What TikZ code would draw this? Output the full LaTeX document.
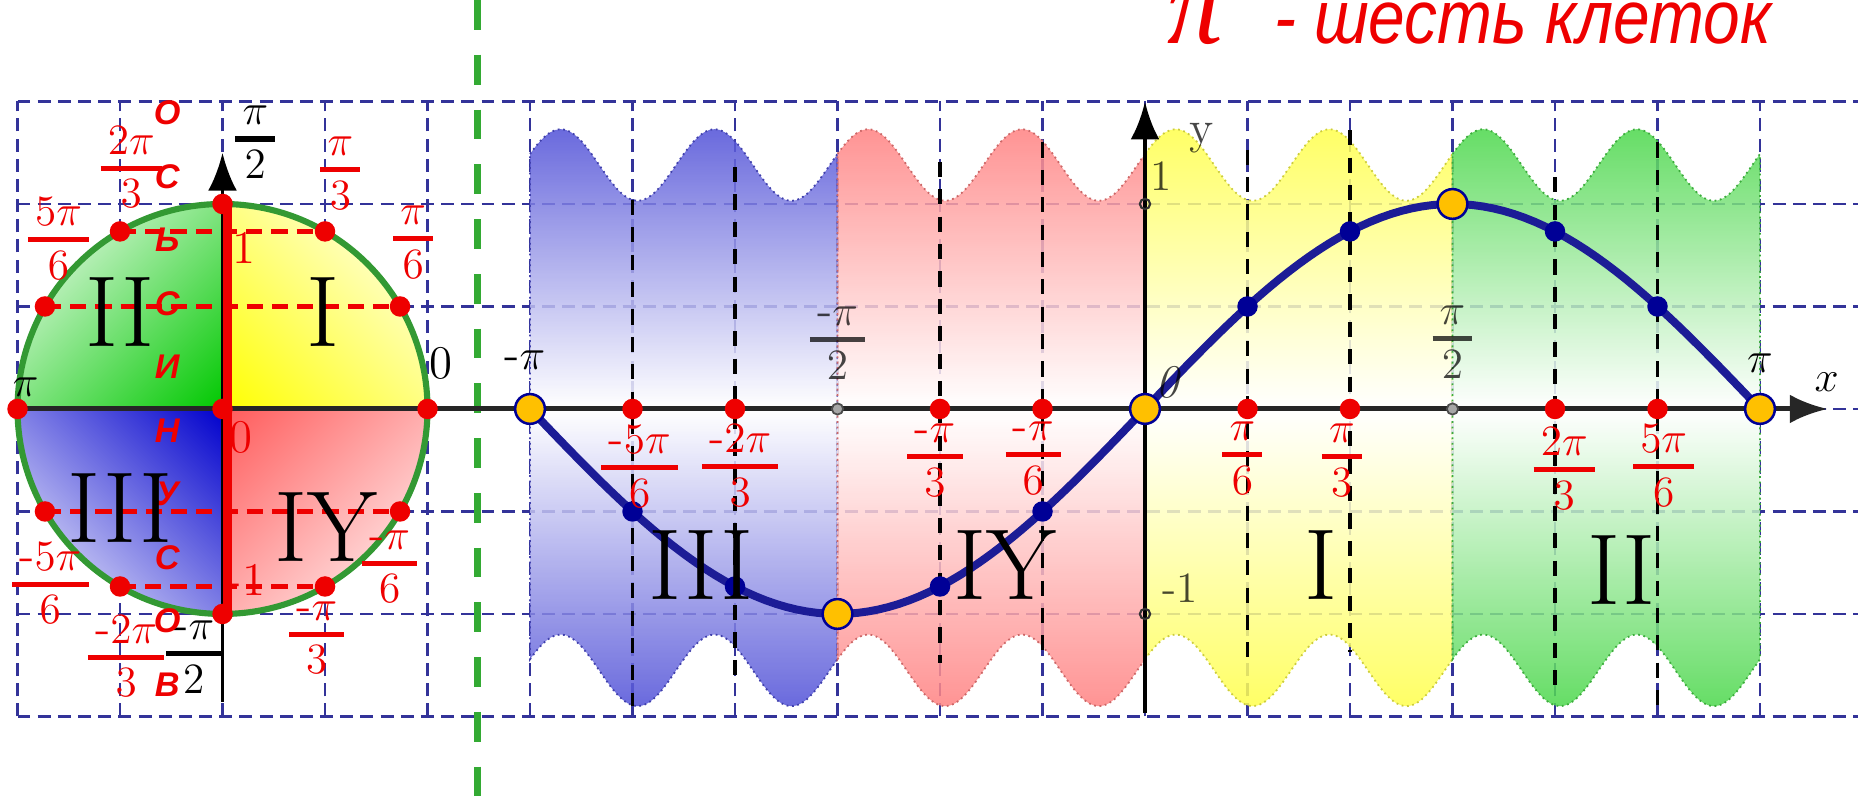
\documentclass[tikz,border=0pt]{standalone}
\usepackage{amsmath}
\usepackage{fontspec}
\newfontfamily\cyrfont{Liberation Sans}
\newfontfamily\titlefont[FakeStretch=0.87]{Liberation Sans}
\newfontfamily\pifont{Liberation Serif}
\usetikzlibrary{arrows.meta,shadings}

\definecolor{gridblue}{RGB}{51,51,153}
\definecolor{labred}{RGB}{238,0,0}
\definecolor{curvenavy}{RGB}{28,28,150}
\definecolor{dotnavy}{RGB}{0,0,150}
\definecolor{dotgold}{RGB}{255,192,0}
\definecolor{rimgreen}{RGB}{51,153,51}
\definecolor{sepgreen}{RGB}{51,170,51}
\definecolor{bandblue}{RGB}{80,80,215}
\definecolor{bandred}{RGB}{255,129,129}
\definecolor{bandyellow}{RGB}{255,255,75}
\definecolor{bandgreen}{RGB}{75,215,75}
\definecolor{qgreen}{RGB}{0,200,0}
\definecolor{qblue}{RGB}{0,0,204}
\definecolor{qred}{RGB}{255,90,90}

\newcommand{\pifr}[2]{$\genfrac{}{}{1.4pt}{1}%
    {\displaystyle\,#1\,\rule[-1.8pt]{0pt}{1.8pt}}{\displaystyle\rule{0pt}{8.9pt}#2}$}

\begin{document}
\begin{tikzpicture}[
    gridline/.style={draw=gridblue, line width=0.7pt, dash pattern=on 3.6pt off 2pt},
    guide/.style={draw=black, line width=1.1pt, dash pattern=on 4.2pt off 3.4pt},
    redguide/.style={draw=labred, line width=1.4pt, dash pattern=on 4.5pt off 2.5pt},
    axisline/.style={draw=black!85, line width=1.4pt},
    arrowtip/.style={-{Latex[length=10.5pt,width=8pt]}},
    golddot/.style={fill=dotgold, draw=dotnavy, line width=0.7pt},
    redlab/.style={text=labred, inner sep=0pt, font=\fontsize{13}{15}\selectfont},
    blklab/.style={text=black, inner sep=0pt, font=\fontsize{13}{15}\selectfont},
    fadelab/.style={blklab, text opacity=0.72},
    roman/.style={inner sep=0pt, font=\fontsize{28}{30}\selectfont},
    cyr/.style={text=labred, inner sep=0pt, font=\cyrfont\bfseries\itshape\fontsize{9.5}{10}\selectfont},
]
\useasboundingbox (-11.171,-3.932) rectangle (6.956,3.990);

% grid
\foreach \gy in {-3,...,3}
    \draw[gridline] (-11,\gy) -- (6.956,\gy);
\foreach \gx in {-11,...,6}
    \draw[gridline] (\gx,-3) -- (\gx,3);

% unit circle
\coordinate (o) at (-9,0);
\foreach \a in {0,30,...,330}
    \coordinate (c\a) at ([shift={(-9,0)}]\a:2);
\shade[lower left=yellow, upper right=white, upper left=yellow!50!white, lower right=yellow!50!white]
    (o) -- (c0) arc[start angle=0, end angle=90, radius=2] -- cycle;
\shade[lower right=qgreen, upper left=white, upper right=qgreen!50!white, lower left=qgreen!50!white]
    (o) -- (c90) arc[start angle=90, end angle=180, radius=2] -- cycle;
\shade[upper right=qblue, lower left=white, upper left=qblue!50!white, lower right=qblue!50!white]
    (o) -- (c180) arc[start angle=180, end angle=270, radius=2] -- cycle;
\shade[upper left=qred, lower right=white, upper right=qred!50!white, lower left=qred!50!white]
    (o) -- (c270) arc[start angle=270, end angle=360, radius=2] -- cycle;
\draw[rimgreen, line width=1.7pt] (o) circle[radius=2];
\draw[redguide] (c120) -- (c60);
\draw[redguide] (c150) -- (c30);
\draw[redguide] (c210) -- (c330);
\draw[redguide] (c240) -- (c300);

% quarter bands
\foreach \xa/\col in {-6/bandblue,-3/bandred,0/bandyellow,3/bandgreen}{
    \pgfmathsetmacro\xb{\xa+3}
    \shade[top color=\col, bottom color=white, fill opacity=0.85]
        (\xa,0) -- plot[domain=\xa:\xb, samples=61] (\x,{2.38+0.35*cos(240*(\x-(\xa)-0.3))}) -- (\xb,0) -- cycle;
    \shade[top color=white, bottom color=\col, fill opacity=0.85]
        (\xa,0) -- plot[domain=\xa:\xb, samples=61] (\x,{-2.55+0.35*cos(240*(\x-(\xa)-0.3))}) -- (\xb,0) -- cycle;
    \draw[\col!80!black, densely dotted, line width=0.5pt]
        plot[domain=\xa:\xb, samples=61] (\x,{2.38+0.35*cos(240*(\x-(\xa)-0.3))})
        -- plot[domain=\xb:\xa, samples=61] (\x,{-2.55+0.35*cos(240*(\x-(\xa)-0.3))}) -- cycle;
}
\foreach \bx/\bt/\bb in {-5/2.04/-2.9, -4/2.36/-2.6, -2/2.41/-2.48, -1/2.6/-2.42,
                          1/2.53/-2.42, 2/2.72/-2.37, 4/2.26/-2.7, 5/2.6/-3.0}
    \draw[guide] (\bx,\bt) -- (\bx,\bb);

\draw[sepgreen, line width=1.8pt, dash pattern=on 8.3pt off 6.9pt] (-6.51,3.99) -- (-6.51,-3.93);

% axes
\draw[axisline, arrowtip] (-11,0) -- (6.66,0);
\draw[black, line width=1.3pt, arrowtip] (0,-2.97) -- (0,3.0);
\draw[black, line width=1.1pt, arrowtip] (-9,-2.86) -- (-9,2.5);
\draw[labred, line width=2.4pt] ([xshift=0.05cm]c90) -- ([xshift=0.05cm]c270);

% sine
\draw[curvenavy, line width=2.2pt, line join=round] plot[domain=-6:6, samples=121] (\x,{2*sin(30*\x)});

% points
\foreach \a in {0,30,...,330}
    \fill[labred] (c\a) circle[radius=0.1];
\fill[labred] (o) circle[radius=0.1];
\foreach \sx in {-5,-4,-2,-1,1,2,4,5}{
    \fill[labred] (\sx,0) circle[radius=0.1];
    \fill[dotnavy] (\sx,{2*sin(30*\sx)}) circle[radius=0.1];
}
\foreach \sx in {-3,3}
    \filldraw[fill=gray!70, draw=black!70, line width=0.5pt] (\sx,0) circle[radius=0.055];
\foreach \sy in {-2,2}
    \draw[black!80, line width=0.6pt] (0,\sy) circle[radius=0.05];
\foreach \sx in {-6,-3,0,3,6}
    \draw[golddot] (\sx,{2*sin(30*\sx)}) circle[radius=0.145];

% circle labels
\node[redlab] (cl30) at (-7.14,1.63) {\pifr{\pi}{6}};
\node[redlab] (cl60) at (-7.85,2.30) {\pifr{\pi}{3}};
\node[blklab] (cl90) at (-8.68,2.60) {\pifr{\pi}{2}};
\node[redlab] (cl120) at (-9.89,2.36) {\pifr{2\pi}{3}};
\node[redlab] (cl150) at (-10.60,1.66) {\pifr{5\pi}{6}};
\node[blklab] (cl180) at (-10.92,0.21) {$\pi$};
\node[redlab] (cl210) at (-10.68,-1.70) {\pifr{\mbox{-}5\pi}{6}};
\node[redlab] (cl240) at (-9.94,-2.41) {\pifr{\mbox{-}2\pi}{3}};
\node[blklab] (cl270) at (-9.28,-2.42) {\pifr{\mbox{-}\pi}{2}};
\node[redlab] (cl300) at (-8.08,-2.23) {\pifr{\mbox{-}\pi}{3}};
\node[redlab] (cl330) at (-7.37,-1.54) {\pifr{\mbox{-}\pi}{6}};
\node[blklab] (cl0) at (-6.87,0.44) {0};
\node[redlab] (r1) at (-8.79,1.57) {1};
\node[redlab] (r0) at (-8.82,-0.28) {0};
\node[redlab] (rm1) at (-8.77,-1.67) {-1};
\foreach \ch [count=\k] in {О,С,Ь,С,И,Н,У,С,О,В}
    \node[cyr] (ax\k) at (-9.54,{3.51-0.62*\k}) {\ch};

\node[roman] (q2) at (-10.0,0.95) {II};
\node[roman] (q1) at (-8.02,0.95) {I};
\node[roman] (q3) at (-10.0,-0.97) {III};
\node[roman] (q4) at (-7.99,-1.15) {IY};

% sine labels
\node[blklab] (sm6) at (-6.05,0.48) {-$\pi$};
\node[fadelab] (sm3) at (-3.0,0.64) {\pifr{\mbox{-}\pi}{2}};
\node[fadelab, font=\itshape\fontsize{13}{15}\selectfont] (s0) at (0.22,0.26) {0};
\node[fadelab] (sp3) at (3.0,0.65) {\pifr{\pi}{2}};
\node[blklab] (sp6) at (6.0,0.45) {$\pi$};
\node[blklab] (sx) at (6.65,0.26) {$x$};
\node[fadelab] (sy) at (0.55,2.64) {y};
\node[fadelab, font=\fontsize{12}{14}\selectfont] (s1) at (0.16,2.27) {1};
\node[fadelab, font=\fontsize{12}{14}\selectfont] (sm1) at (0.34,-1.75) {-1};
\foreach \px/\py/\num/\den [count=\k] in {-4.93/-0.56/{\mbox{-}5\pi}/6, -3.95/-0.55/{\mbox{-}2\pi}/3,
        -2.05/-0.50/{\mbox{-}\pi}/3, -1.09/-0.48/{\mbox{-}\pi}/6, 0.95/-0.48/\pi/6,
        1.92/-0.50/\pi/3, 4.09/-0.58/2\pi/3, 5.06/-0.55/5\pi/6}
    \node[redlab] (sl\k) at (\px,\py) {\pifr{\num}{\den}};

\node[roman] (b3) at (-4.33,-1.52) {III};
\node[roman] (b4) at (-1.37,-1.52) {IY};
\node[roman] (b1) at (1.72,-1.52) {I};
\node[roman] (b2) at (4.65,-1.57) {II};

\node[anchor=base east, text=labred, inner sep=0pt, font=\titlefont\itshape\fontsize{21}{21}\selectfont]
    (ttl) at (6.117,3.57) {{\pifont\fontsize{31}{31}\selectfont π}\hspace{14pt}-\ шесть клеток};
\end{tikzpicture}
\end{document}
